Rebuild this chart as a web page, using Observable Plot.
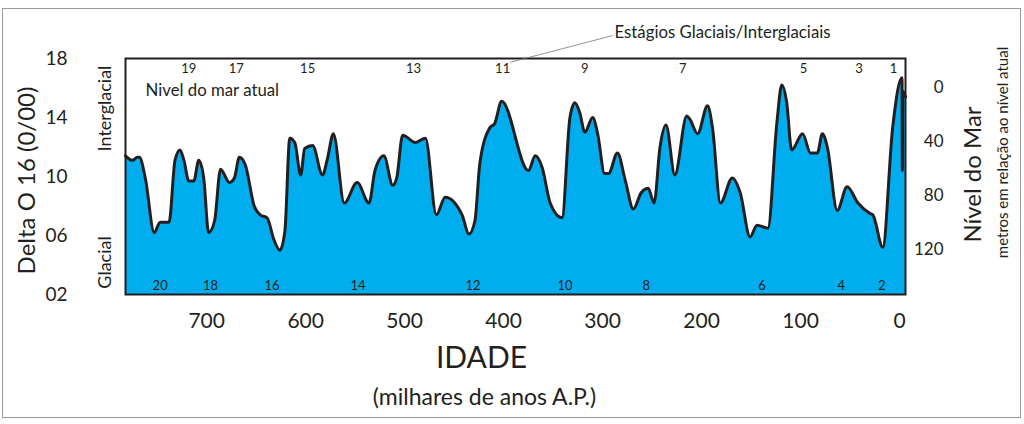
<!DOCTYPE html>
<html>
<head>
<meta charset="utf-8">
<script src="https://cdn.jsdelivr.net/npm/d3@7"></script>
<script src="https://cdn.jsdelivr.net/npm/@observablehq/plot@0.6"></script>
<style>
  html, body { margin: 0; padding: 0; background: #fff; }
  #wrap { position: relative; width: 1024px; height: 424px; }
  #border { position: absolute; left: 2px; top: 8px; width: 1017px; height: 408px; border: 1.5px solid #9a9a9a; pointer-events: none; }
</style>
</head>
<body>
<div id="wrap"><div id="border"></div></div>
<script>
// Age (thousands of years before present) and Delta O16 values
const ages = [782, 775, 770, 768, 762, 753, 747, 738, 732, 727, 723, 718, 713, 708, 703, 698, 692, 686, 677, 672, 667, 661, 652, 646, 639, 632, 626, 621, 616, 611, 605, 601, 593, 583, 578, 572, 561, 548, 536, 530, 521, 512, 508, 502, 489, 479, 468, 459, 442, 435, 429, 424, 414, 409, 402, 375, 368, 361, 353, 341, 333, 328, 323, 318, 310, 305, 298, 294, 285, 277, 269, 261, 254, 248, 242, 236, 227, 215, 212, 204, 194, 189, 181, 169, 161, 151, 144, 133, 124, 119, 114, 109, 98, 90, 83, 78, 73, 63, 53, 42, 30, 27, 17, 7, -2.5, -2.8, -3.2, -6];
const delta = [11.4, 11.1, 11.3, 11.3, 9.9, 6.2, 6.9, 6.9, 11.1, 11.8, 11.1, 9.7, 9.7, 11.1, 9.9, 6.2, 7.0, 10.5, 9.6, 9.9, 11.3, 10.8, 8.0, 7.4, 7.2, 5.7, 5.0, 6.3, 12.6, 12.3, 10.1, 11.9, 12.1, 10.1, 11.2, 12.9, 8.2, 9.6, 8.2, 10.4, 11.4, 9.4, 9.9, 12.8, 12.3, 12.6, 7.4, 8.6, 7.4, 6.1, 7.0, 10.9, 13.3, 13.6, 15.1, 10.4, 11.4, 10.6, 8.2, 7.2, 14.0, 15.0, 14.3, 13.0, 14.0, 12.9, 10.2, 10.2, 11.6, 9.7, 7.8, 8.9, 9.2, 8.2, 12.0, 13.5, 10.1, 14.1, 13.9, 12.9, 14.8, 13.3, 8.2, 9.9, 8.9, 5.9, 6.7, 6.5, 13.6, 16.2, 15.0, 11.8, 12.9, 11.6, 11.6, 12.9, 12.0, 7.7, 9.3, 8.2, 7.5, 7.4, 5.2, 13.3, 16.7, 10.4, 15.8, 15.4];

// Axis ticks
const ageTicks = [700, 600, 500, 400, 300, 200, 100, 0];
const deltaTicks = [2, 6, 10, 14, 18];
const seaTicks = [0, 40, 80, 120];
// Relation between sea level (m below present) and the Delta O16 axis
const seaRef = [0, 120];
const deltaAtSeaRef = [16.0, 5.05];

// Marine isotope stages
const stageOdd = ["19", "17", "15", "13", "11", "9", "7", "5", "3", "1"];
const stageOddAges = [718, 670, 598, 491, 401, 318, 219, 97, 41, 6];
const stageEven = ["20", "18", "16", "14", "12", "10", "8", "6", "4", "2"];
const stageEvenAges = [747, 696, 634, 547, 431, 338, 256, 139, 59, 18];

const series = ages.map((a, i) => ({age: a, d: delta[i]}));
const seaToDelta = d3.scaleLinear().domain(seaRef).range(deltaAtSeaRef);
const oddData = stageOdd.map((s, i) => ({s, age: stageOddAges[i]}));
const evenData = stageEven.map((s, i) => ({s, age: stageEvenAges[i]}));
const ink = "#231F20";
const mid = {lineAnchor: "middle", fill: ink};
const rot = {lineAnchor: "middle", textAnchor: "middle", rotate: -90, fill: ink};

const chart = Plot.plot({
  width: 1024,
  height: 424,
  marginTop: 58,
  marginBottom: 130,
  marginLeft: 125,
  marginRight: 119,
  style: {fontFamily: "Lato, 'Open Sans', sans-serif", color: ink, background: "transparent"},
  x: {domain: [782, -6]},
  y: {domain: [2, 18]},
  marks: [
    Plot.areaY(series, {x: "age", y1: 2, y2: "d", fill: "#00AEEF", curve: "monotone-x"}),
    Plot.line(series, {x: "age", y: "d", stroke: ink, strokeWidth: 3, curve: "monotone-x", strokeLinejoin: "round"}),
    Plot.frame({stroke: ink, strokeWidth: 2}),
    Plot.axisX(ageTicks, {anchor: "bottom", tickSize: 0, tickPadding: 19, fontSize: 21, label: null}),
    Plot.axisY(deltaTicks, {anchor: "left", tickSize: 0, tickPadding: 69, textAnchor: "middle", fontSize: 19, tickFormat: d3.format("02d"), label: null}),
    Plot.axisY(seaTicks.map(seaToDelta), {anchor: "right", tickSize: 0, tickPadding: 38, textAnchor: "end", fontSize: 17, tickFormat: d => String(Math.round(seaToDelta.invert(d))), label: null}),
    Plot.text(oddData, {x: "age", text: "s", frameAnchor: "top", dy: 10, fontSize: 13, ...mid}),
    Plot.text(evenData, {x: "age", text: "s", frameAnchor: "bottom", dy: -9, fontSize: 13, ...mid}),
    Plot.text(["Nivel do mar atual"], {frameAnchor: "top-left", dx: 20, dy: 32, textAnchor: "start", fontSize: 16.8, ...mid}),
    Plot.link([{a1: 393, d1: 17.75, a2: 290, d2: 19.55}], {x1: "a1", y1: "d1", x2: "a2", y2: "d2", stroke: "#777", strokeWidth: 0.8}),
    Plot.text(["Estágios Glaciais/Interglaciais"], {frameAnchor: "top-left", dx: 489, dy: -26, textAnchor: "start", fontSize: 16.8, ...mid}),
    Plot.text(["IDADE"], {frameAnchor: "bottom", dx: -34, dy: 64, textAnchor: "middle", fontSize: 30, ...mid}),
    Plot.text(["(milhares de anos A.P.)"], {frameAnchor: "bottom", dx: -31, dy: 103, textAnchor: "middle", fontSize: 23, ...mid}),
    Plot.text(["Delta O 16 (0/00)"], {frameAnchor: "left", dx: -98, dy: 4, fontSize: 24, ...rot}),
    Plot.text(["Interglacial"], {frameAnchor: "top-left", dx: -20, dy: 50, fontSize: 18, ...rot}),
    Plot.text(["Glacial"], {frameAnchor: "bottom-left", dx: -20, dy: -32, fontSize: 18, ...rot}),
    Plot.text(["Nível do Mar"], {frameAnchor: "right", dx: 68, dy: -2, fontSize: 24, ...rot}),
    Plot.text(["metros em relação ao nível atual"], {frameAnchor: "right", dx: 98, dy: -24, fontSize: 15, ...rot})
  ]
});
chart.style.position = "absolute";
chart.style.left = "0px";
chart.style.top = "0px";
document.getElementById("wrap").prepend(chart);
</script>
</body>
</html>
